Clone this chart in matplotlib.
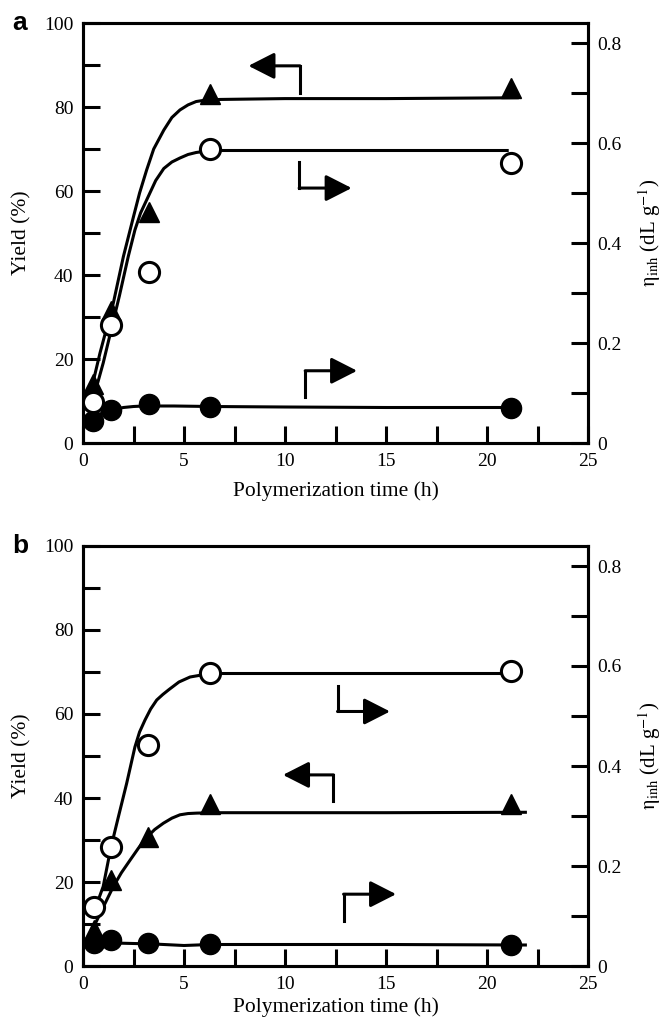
import matplotlib
matplotlib.use('Agg')
import matplotlib.pyplot as plt
from matplotlib.ticker import MultipleLocator, FuncFormatter

plt.rcParams['font.family'] = ['Liberation Serif', 'DejaVu Serif']
plt.rcParams['mathtext.fontset'] = 'stix'

#%% data
# panel a
time_a = [0.5, 1.4, 3.25, 6.3, 21.2]
yield_a = [14, 31.5, 55, 83, 84.5]
eta_open_a = [0.082, 0.236, 0.341, 0.587, 0.559]
eta_fill_a = [0.045, 0.066, 0.078, 0.072, 0.071]

fit_yield_x_a = [0.4, 0.84, 1.5, 2.0, 2.5, 2.8, 3.15, 3.5, 4.0, 4.4, 4.8, 5.2, 5.6, 6.0, 6.8, 10, 15, 21.5]
fit_yield_y_a = [12.5, 21.4, 33.3, 44.4, 53.9, 59.5, 65, 70, 74.5, 77.5, 79.3, 80.5, 81.3, 81.6, 81.8, 82, 82, 82.2]
fit_open_x_a = [0.45, 1.0, 1.4, 1.8, 2.24, 2.57, 2.85, 3.15, 3.6, 4.0, 4.4, 4.8, 5.2, 5.6, 6.3, 10, 15, 21]
fit_open_y_a = [0.080, 0.160, 0.227, 0.294, 0.373, 0.426, 0.460, 0.486, 0.525, 0.549, 0.562,
                0.570, 0.577, 0.581, 0.585, 0.585, 0.585, 0.585]
fit_fill_x_a = [0.4, 0.7, 1.0, 1.5, 2.0, 2.5, 3.0, 4.5, 6.3, 10, 15, 21.3]
fit_fill_y_a = [0.046, 0.055, 0.061, 0.067, 0.071, 0.073, 0.074, 0.074, 0.073, 0.072, 0.071, 0.071]

# panel b
time_b = [0.55, 1.4, 3.2, 6.3, 21.2]
yield_b = [8.5, 20.5, 30.8, 38.5, 38.5]
eta_open_b = [0.118, 0.238, 0.442, 0.586, 0.591]
eta_fill_b = [0.046, 0.052, 0.047, 0.044, 0.042]

fit_yield_x_b = [0.6, 1.0, 1.5, 1.9, 2.33, 2.75, 3.15, 3.55, 3.98, 4.4, 4.8, 5.2, 5.63, 6.5, 10, 15, 21.9]
fit_yield_y_b = [10, 14, 18.9, 22.2, 25.2, 28.1, 30.6, 32.5, 34, 35.2, 36, 36.3, 36.4, 36.5, 36.5, 36.5, 36.6]
fit_open_x_b = [0.55, 1.0, 1.37, 1.75, 2.16, 2.57, 2.8, 3.07, 3.35, 3.65, 3.95, 4.26, 4.75, 5.3, 6.3, 10, 15, 21.1]
fit_open_y_b = [0.109, 0.159, 0.235, 0.298, 0.365, 0.438, 0.468, 0.492, 0.514, 0.532, 0.543,
                0.553, 0.568, 0.578, 0.585, 0.585, 0.585, 0.585]
fit_fill_x_b = [0.5, 0.8, 1.0, 1.5, 2.5, 3.5, 5.0, 6.3, 10, 15, 21.9]
fit_fill_y_b = [0.059, 0.054, 0.050, 0.046, 0.045, 0.044, 0.041, 0.043, 0.043, 0.043, 0.042]

# L-shaped arrows: (corner x, start y, corner y, tip x) in yield units
arrows_a = [(10.74, 83.3, 89.8, 8.19), (10.7, 66.9, 60.7, 13.3), (11.0, 10.9, 17.2, 13.57)]
arrows_b = [(12.4, 39.3, 45.5, 9.9), (12.6, 66.7, 60.6, 15.2), (12.9, 10.6, 17.1, 15.5)]

LW = 2.2
MS = 14.5


def draw_panel(ax, letter, t, yl, eo, ef, fyx, fyy, fox, foy, ffx, ffy, arrows, xpad):
    ax2 = ax.twinx()
    ax.plot(fyx, fyy, '-', color='k', lw=LW, zorder=2)
    ax.plot(t, yl, '^', color='k', ms=MS, zorder=3)
    ax2.plot(fox, foy, '-', color='k', lw=LW, zorder=2)
    ax2.plot(ffx, ffy, '-', color='k', lw=LW, zorder=2)
    ax2.plot(t, ef, 'o', color='k', ms=MS, zorder=3)
    ax2.plot(t, eo, 'o', mfc='white', mec='k', mew=2.2, ms=MS, zorder=4)

    for xc, y0, y1, xt in arrows:
        ax.plot([xc, xc], [y0, y1], '-', color='k', lw=LW, solid_capstyle='projecting')
        ax.annotate('', xy=(xt, y1), xytext=(xc, y1),
                    arrowprops=dict(arrowstyle='-|>,head_length=0.55,head_width=0.28',
                                    mutation_scale=29, lw=LW, color='k',
                                    shrinkA=0, shrinkB=0))

    ax.set_xlim(0, 25)
    ax.set_ylim(0, 100)
    ax2.set_ylim(0, 0.84)

    ax.xaxis.set_major_locator(MultipleLocator(2.5))
    ax.xaxis.set_major_formatter(FuncFormatter(lambda v, p: f'{v:.0f}' if v % 5 == 0 else ''))
    ax.yaxis.set_major_locator(MultipleLocator(10))
    ax.yaxis.set_major_formatter(FuncFormatter(lambda v, p: f'{v:.0f}' if v % 20 == 0 else ''))
    ax2.yaxis.set_major_locator(MultipleLocator(0.1))
    ax2.yaxis.set_major_formatter(FuncFormatter(
        lambda v, p: ('0' if abs(v) < 1e-9 else f'{v:.1f}') if round(v * 10) % 2 == 0 else ''))

    for a in (ax, ax2):
        for s in a.spines.values():
            s.set_linewidth(LW)
        a.tick_params(direction='in', length=12, width=LW, labelsize=14, pad=7)
    ax.tick_params(top=False, right=False)
    ax2.tick_params(left=False)

    ax.set_xlabel('Polymerization time (h)', fontsize=15.5, labelpad=xpad)
    ax.set_ylabel('Yield (%)', fontsize=15.5, labelpad=9)
    ax2.set_ylabel(r'$\mathrm{\eta}_{\mathrm{inh}}$ (dL g$^{-1}$)', fontsize=15, labelpad=10)
    ax.text(-0.14, 1.0, letter, transform=ax.transAxes, fontsize=19, fontweight='bold',
            family='Liberation Sans', va='center', ha='left')


fig = plt.figure(figsize=(6.61, 10.21), dpi=100)
ax_a = fig.add_axes([83 / 661, 1 - 443 / 1021, 505 / 661, 420 / 1021])
ax_b = fig.add_axes([83 / 661, 1 - 966 / 1021, 505 / 661, 420 / 1021])

draw_panel(ax_a, 'a', time_a, yield_a, eta_open_a, eta_fill_a,
           fit_yield_x_a, fit_yield_y_a, fit_open_x_a, fit_open_y_a,
           fit_fill_x_a, fit_fill_y_a, arrows_a, 8)
draw_panel(ax_b, 'b', time_b, yield_b, eta_open_b, eta_fill_b,
           fit_yield_x_b, fit_yield_y_b, fit_open_x_b, fit_open_y_b,
           fit_fill_x_b, fit_fill_y_b, arrows_b, 3)

fig.savefig('out.png', dpi=100)
